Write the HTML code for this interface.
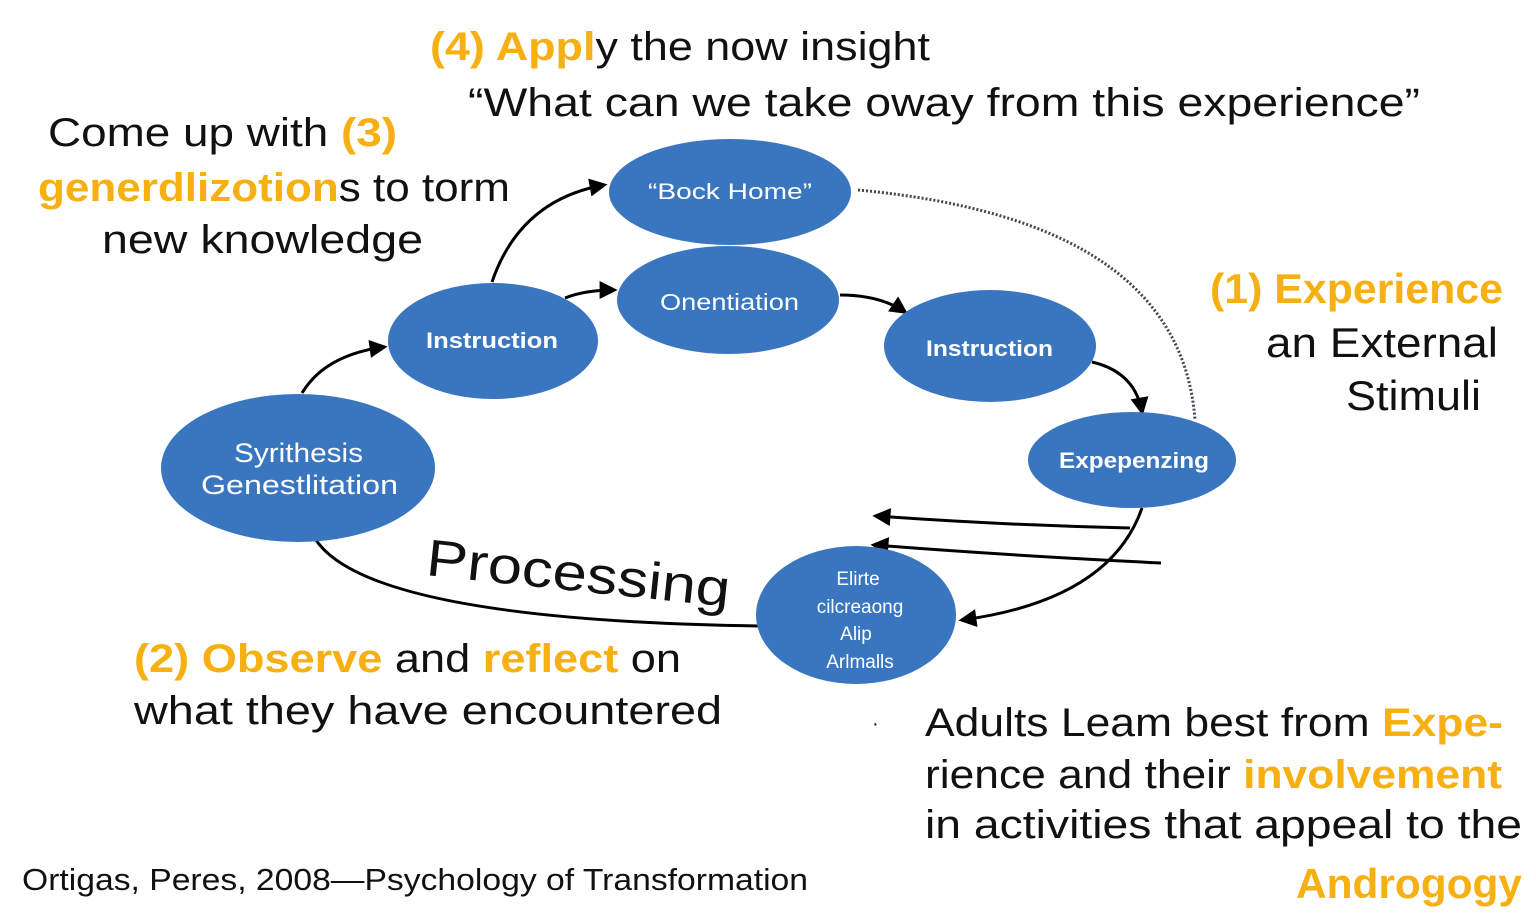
<!DOCTYPE html>
<html><head><meta charset="utf-8"><style>
html,body{margin:0;padding:0;background:#fff;}
svg{display:block}
text{font-family:"Liberation Sans",sans-serif;}
.o{fill:#f7b012}
</style></head><body>
<svg width="1536" height="917" viewBox="0 0 1536 917" xmlns="http://www.w3.org/2000/svg">
<defs>
<marker id="b" viewBox="0 0 10 10" markerWidth="20" markerHeight="18" refX="8" refY="5" orient="auto" markerUnits="userSpaceOnUse"><path d="M0,0 L10,5 L0,10 Z" fill="#000"/></marker></defs>
<g fill="none" stroke="#000" stroke-width="3">
<path d="M492,282 Q520,200 604,185" marker-end="url(#b)"/>
<path d="M565,298 Q585,290 614,290" marker-end="url(#b)"/>
<path d="M302,393 Q325,355 384,347" marker-end="url(#b)"/>
<path d="M840,295 Q880,295 905,312" marker-end="url(#b)"/>
<path d="M1092,362 Q1135,372 1142,412" marker-end="url(#b)"/>
<path d="M316,540 Q370,620 758,626"/>
<path d="M1142,508 Q1110,600 962,620" marker-end="url(#b)"/>
<path d="M1130,528 Q1000,525 876,516" marker-end="url(#b)"/>
<path d="M1161,563 Q1000,555 874,545" marker-end="url(#b)"/>
<path d="M858,190 Q1180,220 1195,420" stroke="#445" stroke-width="3" stroke-dasharray="2 2"/>
</g>
<g fill="#3a76c0">
<ellipse cx="730" cy="192" rx="121" ry="53"/>
<ellipse cx="728" cy="300" rx="111" ry="54"/>
<ellipse cx="493" cy="341" rx="105" ry="58"/>
<ellipse cx="990" cy="346" rx="106" ry="56"/>
<ellipse cx="1132" cy="460" rx="104" ry="48"/>
<ellipse cx="298" cy="468" rx="137" ry="74"/>
<ellipse cx="856" cy="615" rx="100" ry="69"/>
</g>
<g fill="#fff" lengthAdjust="spacingAndGlyphs">
<text x="648" y="199" font-size="22" textLength="164" lengthAdjust="spacingAndGlyphs">“Bock Home”</text>
<text x="660" y="310" font-size="23" textLength="139" lengthAdjust="spacingAndGlyphs">Onentiation</text>
<text x="426" y="348" font-size="22" font-weight="bold" textLength="132" lengthAdjust="spacingAndGlyphs">Instruction</text>
<text x="926" y="356" font-size="22" font-weight="bold" textLength="127" lengthAdjust="spacingAndGlyphs">Instruction</text>
<text x="1059" y="468" font-size="22" font-weight="bold" textLength="150" lengthAdjust="spacingAndGlyphs">Expepenzing</text>
<text x="234" y="462" font-size="27" textLength="129" lengthAdjust="spacingAndGlyphs">Syrithesis</text>
<text x="201" y="494" font-size="27" textLength="197" lengthAdjust="spacingAndGlyphs">Genestlitation</text>
</g>
<g fill="#fff" text-anchor="middle">
<text x="858" y="585" font-size="19">Elirte</text>
<text x="860" y="613" font-size="19">cilcreaong</text>
<text x="856" y="640" font-size="19">Alip</text>
<text x="860" y="668" font-size="19">Arlmalls</text>
</g>
<g fill="#111" font-size="40">
<text x="430" y="60" textLength="500" lengthAdjust="spacingAndGlyphs"><tspan class="o" font-weight="bold">(4) Appl</tspan>y the now insight</text>
<text x="468" y="116" textLength="952" lengthAdjust="spacingAndGlyphs">“What can we take oway from this experience”</text>
<text x="48" y="146" textLength="349" lengthAdjust="spacingAndGlyphs">Come up with <tspan class="o" font-weight="bold">(3)</tspan></text>
<text x="38" y="201" textLength="472" lengthAdjust="spacingAndGlyphs"><tspan class="o" font-weight="bold">generdlizotion</tspan>s to torm</text>
<text x="102" y="253" textLength="321" lengthAdjust="spacingAndGlyphs">new knowledge</text>
<text x="1210" y="303" class="o" font-weight="bold" font-size="42" textLength="293" lengthAdjust="spacingAndGlyphs">(1) Experience</text>
<text x="1266" y="357" font-size="42" textLength="232" lengthAdjust="spacingAndGlyphs">an External</text>
<text x="1346" y="410" font-size="42" textLength="135" lengthAdjust="spacingAndGlyphs">Stimuli</text>
<text x="425" y="575" font-size="52" transform="rotate(6 425 575)" textLength="305" lengthAdjust="spacingAndGlyphs">Processing</text>
<text x="134" y="672" textLength="547" lengthAdjust="spacingAndGlyphs"><tspan class="o" font-weight="bold">(2) Observe</tspan> and <tspan class="o" font-weight="bold">reflect</tspan> on</text>
<text x="134" y="724" textLength="588" lengthAdjust="spacingAndGlyphs">what they have encountered</text>
<text x="872" y="730" font-size="20">·</text>
<text x="925" y="736" textLength="578" lengthAdjust="spacingAndGlyphs">Adults Leam best from <tspan class="o" font-weight="bold">Expe-</tspan></text>
<text x="925" y="788" textLength="577" lengthAdjust="spacingAndGlyphs">rience and their <tspan class="o" font-weight="bold">involvement</tspan></text>
<text x="925" y="838" textLength="597" lengthAdjust="spacingAndGlyphs">in activities that appeal to the</text>
<text x="1296" y="898" class="o" font-weight="bold" font-size="42" textLength="226" lengthAdjust="spacingAndGlyphs">Androgogy</text>
<text x="22" y="890" font-size="31" textLength="786" lengthAdjust="spacingAndGlyphs">Ortigas, Peres, 2008—Psychology of Transformation</text>
</g>
</svg>
</body></html>
